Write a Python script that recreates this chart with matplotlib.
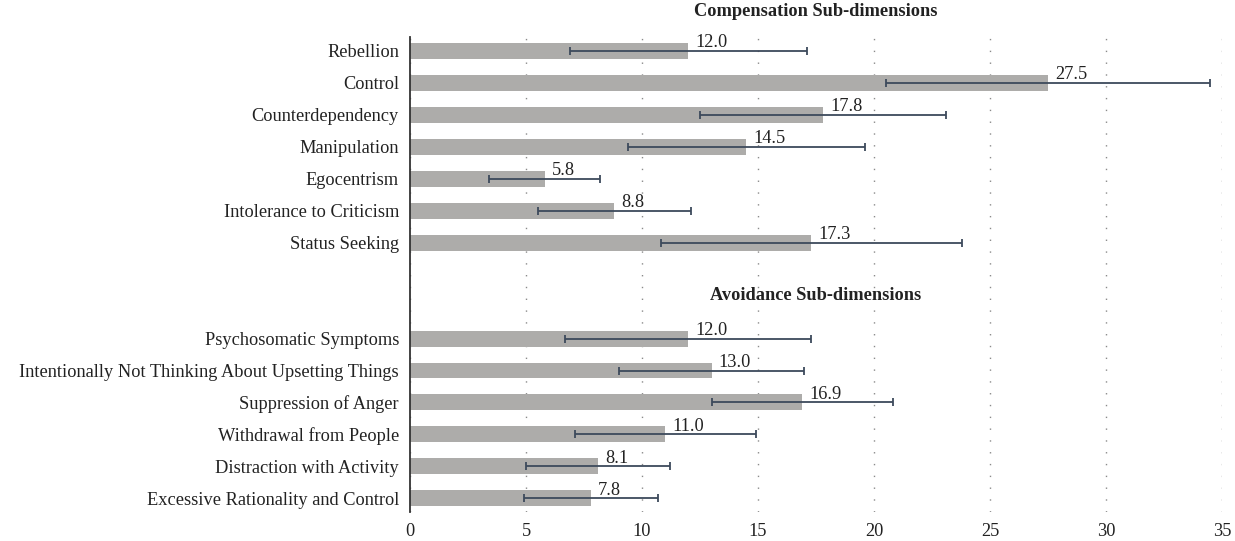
import numpy as np
import matplotlib.pyplot as plt

plt.rcParams['font.family'] = ['Liberation Serif', 'DejaVu Serif']

# compensation sub-dimensions: mean and SD
comp_labels = ["Rebellion", "Control", "Counterdependency", "Manipulation",
               "Egocentrism", "Intolerance to Criticism", "Status Seeking"]
comp_means = [12.0, 27.5, 17.8, 14.5, 5.8, 8.8, 17.3]
comp_sds = [5.1, 7.0, 5.3, 5.1, 2.4, 3.3, 6.5]

# avoidance sub-dimensions: mean and SD
avoid_labels = ["Psychosomatic Symptoms",
                "Intentionally Not Thinking About Upsetting Things",
                "Suppression of Anger", "Withdrawal from People",
                "Distraction with Activity", "Excessive Rationality and Control"]
avoid_means = [12.0, 13.0, 16.9, 11.0, 8.1, 7.8]
avoid_sds = [5.3, 4.0, 3.9, 3.9, 3.1, 2.9]

comp_title = "Compensation Sub-dimensions"
avoid_title = "Avoidance Sub-dimensions"
xticks = [0, 5, 10, 15, 20, 25, 30, 35]

BAR = "#adacaa"
ERR = "#3d4a5c"
FS = 13.2

# row positions, leaving a gap of blank rows between the two groups
gap = 2
comp_pos = np.arange(len(comp_labels))
avoid_pos = np.arange(len(avoid_labels)) + len(comp_labels) + gap
pos = np.concatenate([comp_pos, avoid_pos])
labels = comp_labels + avoid_labels
means = comp_means + avoid_means
sds = comp_sds + avoid_sds

fig = plt.figure(figsize=(12.35, 5.41), dpi=100)
ax = fig.add_axes([0.332, 0.054, 0.6575, 0.878])

ax.barh(pos, means, height=0.5, color=BAR, zorder=2)
ax.errorbar(means, pos, xerr=sds, fmt="none", ecolor=ERR, elinewidth=1.3,
            capsize=2.6, capthick=1.3, zorder=3)

for y, m in zip(pos, means):
    ax.annotate(f"{m:.1f}", (m, y), xytext=(5, 2.5), textcoords="offset points",
                ha="left", va="baseline", fontsize=FS, color="#222222", zorder=4)

ax.set_xlim(0, 35)
ax.set_ylim(pos[-1] + 0.42, -0.44)
ax.set_xticks(xticks)
ax.set_yticks(pos)
ax.set_yticklabels(labels)
ax.tick_params(axis="both", length=0, labelsize=FS, colors="#222222")
ax.tick_params(axis="y", pad=8)
ax.tick_params(axis="x", pad=8)

ax.xaxis.grid(True, linestyle=(0, (1, 7.5)), linewidth=1.0, color="#8a8a8a", zorder=0)
ax.set_axisbelow(True)
for side in ["top", "right", "bottom"]:
    ax.spines[side].set_visible(False)
ax.spines["left"].set_color("#333333")
ax.spines["left"].set_linewidth(1.3)

ax.text(17.5, -1.22, comp_title, ha="center", va="center", fontsize=FS,
        fontweight="bold", color="#222222", clip_on=False)
ax.text(17.5, len(comp_labels) + 0.66, avoid_title, ha="center", va="center",
        fontsize=FS, fontweight="bold", color="#222222")

fig.savefig("out.png", dpi=100)
